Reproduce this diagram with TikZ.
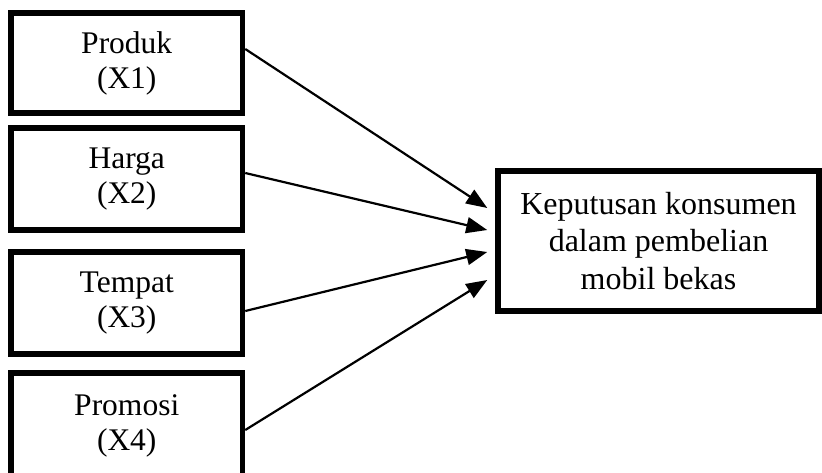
\documentclass[tikz,border=0pt]{standalone}
\usepackage{fontspec}
\setmainfont{Liberation Serif}
\usetikzlibrary{arrows.meta}
\begin{document}
\begin{tikzpicture}[x=1pt,y=-1pt,
  varbox/.style={draw, line width=5.5pt, inner sep=0pt, minimum width=231.5pt,
    align=center, font=\fontsize{31.5}{35}\selectfont},
  outbox/.style={draw, line width=5.5pt, inner sep=0pt, minimum width=321pt,
    minimum height=140pt, align=center, font=\fontsize{32}{37.5}\selectfont},
  link/.style={line width=2.2pt, -{Triangle[length=21pt,width=16pt]}}]
\useasboundingbox (0,0) rectangle (822,472);
\node[varbox, minimum height=100pt] (x1) at (126.75,63) {Produk\\(X1)};
\node[varbox, minimum height=102pt] (x2) at (126.75,179) {Harga\\(X2)};
\node[varbox, minimum height=102pt] (x3) at (126.75,303) {Tempat\\(X3)};
\node[varbox, minimum height=106pt] (x4) at (126.75,426) {Promosi\\(X4)};
\node[outbox] (y) at (658.5,241) {Keputusan konsumen\\dalam pembelian\\mobil bekas};
\draw[link] ([yshift=14pt]x1.east) -- ([xshift=-8pt,yshift=33pt]y.west);
\draw[link] ([yshift=6pt]x2.east) -- ([xshift=-8pt,yshift=11pt]y.west);
\draw[link] ([yshift=-8pt]x3.east) -- ([xshift=-8pt,yshift=-11pt]y.west);
\draw[link] ([yshift=-4pt]x4.east) -- ([xshift=-8pt,yshift=-39pt]y.west);
\end{tikzpicture}
\end{document}
